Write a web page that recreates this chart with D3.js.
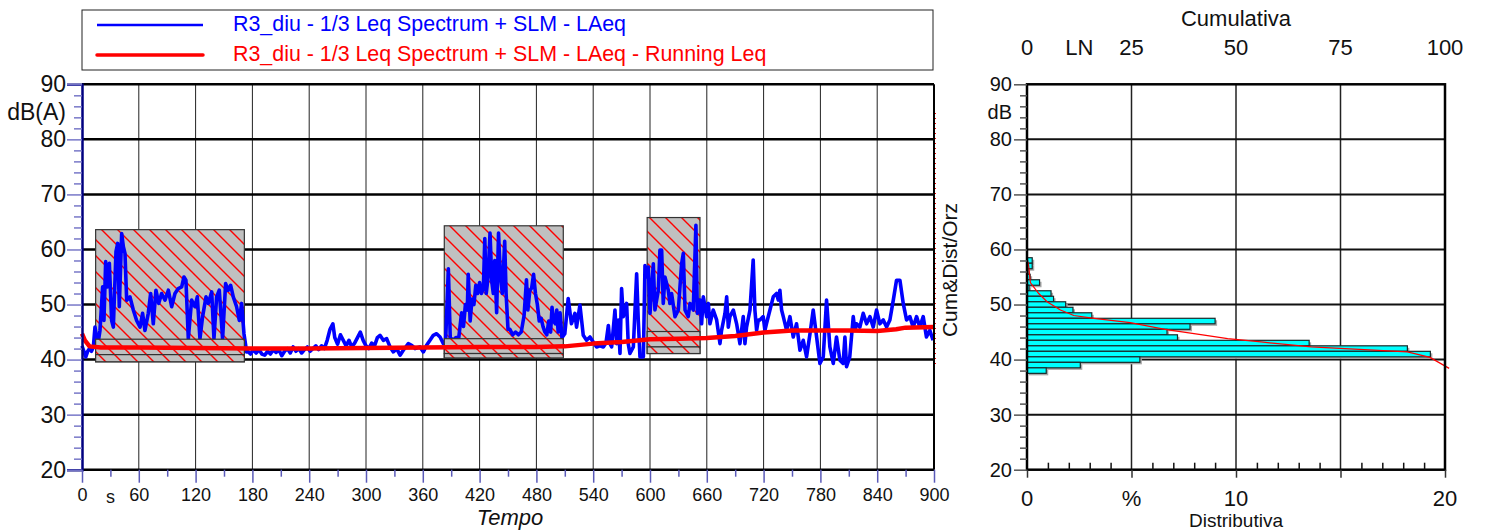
<!DOCTYPE html>
<html>
<head>
<meta charset="utf-8">
<script src="https://cdn.jsdelivr.net/npm/d3@7"></script>
<style>
body { margin: 0; background: #fff; }
svg { display: block; font-family: "Liberation Sans", Arial, sans-serif; }
</style>
</head>
<body>
<svg id="chart" width="1489" height="530"></svg>
<script>
// LAeq time history (s, dB)
var laeqTime = [0,2,4,6,8,10,12,13.7,15.5,17,19,
	21.8,23.2,25,26.8,28.9,31.3,33.1,35.9,37.7,39.4,41.9,43.7,45.4,47.2,50.7,54.2,57.7,61.3,64,66.5,70,72.5,75.3,78.1,81,84.1,87.7,91.2,94.7,98.2,101.7,105.3,107.7,109.8,112.3,115.8,119.3,121.8,124.6,127.4,131,133.4,137,139.4,142.2,145,148.5,151.7,154.5,157,159.8,163.3,166.2,168.6,171.1,
	173.9,175,178,181,184,187,190,193,196,199,202,205,208,211,214,217,220,223,226,229,232,235,238,241,244,247,250,253,256,259,262,265,267,270,273,276,279,282,285,288,291,294,297,300,303,306,309,312,
	314.8,318.3,321.8,325.4,328.9,332.4,336,339.4,344.7,348.2,351.8,357,360.6,364,367.6,371.1,374.6,378.2,381.7,
	384,387,389,392,395,398,401,403,405,407,408,410,412,414,416,418,420,422,424,425.5,427,429,431,433,434.5,436,438,440,442,444,446.5,448,450,452,455,458,461,464,467,469.5,471,473,475,477,479,481,483,485,487,489,491,493,495,496.5,498,500,501.5,503,505,507,
	510,513.6,517,520.7,522.4,526,529.5,533,
	536.6,540,543.6,547,550.7,553.5,556,557.7,559.5,563,564.8,566.5,568.3,570,571.8,575.3,577,578.8,582.4,585.9,587.6,589.4,593,594.7,596.4,598.2,600,603.5,605.2,608.8,610.5,612.3,614,615.8,619.3,621,622.8,626.4,629.9,633.4,635.2,637,640.4,642.2,645.7,648.5,650,652.8,
	654.5,656.3,659.8,661.6,663.3,666.8,670.4,673.9,675.6,679.2,681,682.7,684.4,688,691.5,695,698.5,700.3,702,705.6,709,710.8,712.6,714.4,716,719.6,721.4,723,726.7,730.2,733.7,735.5,737.2,739,740.8,744.3,747.8,751.3,754.8,758.4,761.9,765.4,769,772.4,776,779.5,783,786.5,790,793.6,797,800.6,804,805.9,807.6,811,814.7,816.4,818.2,821.7,825.2,828.8,832.3,835.8,839.3,842.8,846.4,849.9,853.4,857,860.4,864,867.5,871,874.5,878,881.6,885,888.6,892,895.6,899];
var laeqDb = [42.5,41.5,40.5,41.5,42,41.5,42.3,45.9,44.1,43,45.3,
	53.2,47.1,57.8,53.2,57.5,47.1,45.9,59.6,61.1,49.6,62.9,60.5,59.3,50.8,51.4,49,47.1,45.9,48.4,45.3,48.4,52,46.5,52.6,50.2,52,50.8,52.6,49.6,52,52.9,53.2,55,54.4,43.8,50.8,49.6,51.4,43.8,47.8,51.4,50.2,52.3,43.8,51.4,52.6,43.8,53.8,52.6,53.5,51.4,49.6,47.1,50.2,44.7,
	41.4,41.5,41,41.8,41.2,41.8,41,40.8,41.5,41,41.8,41.3,41.8,40.7,41.5,42,41.2,42.3,41.5,42,41.2,41.8,42.3,41.5,42,42.5,41.8,42.5,42,43.5,45.5,46.5,44,42.8,44.5,43.5,42.5,43.5,42.3,43,44,45,43.5,42.5,42,43,42.5,44,
	44.4,43.5,43.8,42.3,41.4,42,40.8,41.7,42.9,42.6,42,42.3,41.4,42.6,43.5,44.4,44.7,44.1,42.9,
	43,56.5,44,43.5,44,44,48.5,46,50,49,55.5,47,51,50,53.5,52,54,52,53,62,52,55,63,54,52,58,48.5,63,55,52,61.5,52,45.5,45.5,44.5,45,44.5,45,48,54.5,49,52.5,53,55.5,52,50,47,47.5,46,45,44.5,47,45,49.5,47,46.5,49,45,48.5,44,
	44.7,51.1,46.5,48.4,45.9,49.9,44.4,43.5,
	44.1,43.2,42.3,42.5,42.3,43,46.2,42.9,42.3,49,42.9,47.2,41.1,52.9,47.8,50.2,42.9,41.1,42.3,55.6,47.2,40.5,40.5,57.1,55,56.8,48.4,57.4,49,52.6,59.9,59.9,50.2,55,52.6,50.2,52,47.8,49,57.4,59.3,49,47.8,50.2,49,64.4,48.4,50.8,
	46.5,51.4,47.8,50.2,46.5,49,47.2,42.9,45.3,48.4,51.4,45.9,47.8,49,46.5,42.9,47.8,42.9,45.9,49,58.1,49,45.3,47.2,47.2,47.8,45.3,46.5,49,51.4,52,50.8,52.6,49,47.8,45.3,47.8,44.1,46.5,41.7,43.5,40.5,44.7,49,44.1,39.3,40.5,50.8,42.3,39.3,44.1,39.9,39.3,44.1,38.7,40.5,47.8,45.3,46.5,45.9,48.4,46.5,47.8,45.9,49,46.5,47.2,45.9,47.2,50.8,54.4,54.4,50.2,47.2,47.8,45.9,47.8,45.9,47.8,44.1,45.3,43.5];

// running Leq
var runTime = [0,3,8,20,60,120,180,240,300,360,420,480,510,540,570,600,630,660,690,720,750,780,810,840,860,870,900];
var runDb = [44.7,43.5,42.4,42.2,42.2,42.1,42.0,42.0,42.1,42.2,42.3,42.3,42.4,42.9,43.2,43.7,43.8,43.9,44.3,44.9,45.3,45.3,45.3,45.2,45.5,45.8,45.9];

// masked (excluded) periods
var maskStart = [14.4, 382.7, 597];
var maskEnd = [171.5, 508.4, 652.8];
var maskTop = [63.6, 64.3, 65.8];
var maskMid = [43.7, 43.8, 45.1];
var maskLine = [40.9, 41.1, 42.3];
var maskBottom = [39.6, 40.3, 41.1];

// distribution (1 dB classes) and cumulative
var histDb = [58,57,56,55,54,53,52,51,50,49,48,47,46,45,44,43,42,41,40,39,38];
var histPct = [0.25,0.25,0.05,0.15,0.6,0.1,1.15,1.27,1.85,2.2,3.1,9.0,7.8,6.7,7.2,13.5,18.2,19.3,5.4,2.55,0.92];
var cumDb = [58.5,57,54,52,50.5,49,48,47.5,46.7,45.5,44.5,43.8,43.2,42.3,41.4,40.4,38.4];
var cumPct = [0,0.4,0.8,2.8,4.8,8,11.2,16,24.7,33,42,48,56,68,91,96.4,101];

// tick labels
var dbTicks = [20,30,40,50,60,70,80,90];
var timeTicks = [0,60,120,180,240,300,360,420,480,540,600,660,720,780,840,900];
var distTicks = [0,10,20];
var cumTicks = [0,25,50,75,100];

var svg = d3.select("#chart");

var x = d3.scaleLinear().domain([0, 900]).range([82, 934]);
var y = d3.scaleLinear().domain([20, 90]).range([469.7, 84.3]);
var xd = d3.scaleLinear().domain([0, 20]).range([1027, 1445]);
var xc = d3.scaleLinear().domain([0, 100]).range([1027, 1445]);

// hatch for the masked boxes
var defs = svg.append("defs");
var pat = defs.append("pattern")
	.attr("id", "hatch")
	.attr("patternUnits", "userSpaceOnUse")
	.attr("width", 16).attr("height", 16);
pat.append("rect").attr("width", 16).attr("height", 16).attr("fill", "#c0c0c0");
pat.append("path")
	.attr("d", "M-4,-4L20,20M-4,12L4,20M12,-4L20,4")
	.attr("stroke", "#ff0000").attr("stroke-width", 1.4);

// ---------- legend ----------
svg.append("rect")
	.attr("x", 82).attr("y", 10).attr("width", 851).attr("height", 60)
	.attr("fill", "#fff").attr("stroke", "#222").attr("stroke-width", 1);
svg.append("line").attr("x1", 97).attr("x2", 203).attr("y1", 25).attr("y2", 25)
	.attr("stroke", "#0000ff").attr("stroke-width", 2.5);
svg.append("line").attr("x1", 97).attr("x2", 203).attr("y1", 55).attr("y2", 55)
	.attr("stroke", "#ff0000").attr("stroke-width", 3.5).attr("stroke-linecap", "round");
svg.append("text").attr("x", 233).attr("y", 31).attr("font-size", 21.4).attr("fill", "#0000ff")
	.text("R3_diu - 1/3 Leq Spectrum + SLM - LAeq");
svg.append("text").attr("x", 233).attr("y", 61).attr("font-size", 21.4).attr("fill", "#ff0000")
	.text("R3_diu - 1/3 Leq Spectrum + SLM - LAeq - Running Leq");

// ---------- time history ----------
var left = svg.append("g");

left.selectAll("line.vgrid")
	.data(d3.range(60, 900, 60))
	.enter().append("line")
	.attr("x1", function(d) { return x(d); }).attr("x2", function(d) { return x(d); })
	.attr("y1", y(90)).attr("y2", y(20))
	.attr("stroke", "#222").attr("stroke-width", 1);

left.selectAll("line.hgrid")
	.data(d3.range(30, 90, 10))
	.enter().append("line")
	.attr("x1", x(0)).attr("x2", x(900))
	.attr("y1", function(d) { return y(d); }).attr("y2", function(d) { return y(d); })
	.attr("stroke", "#000").attr("stroke-width", 2.5);

// big masked boxes behind the line
left.selectAll("rect.mask")
	.data(maskStart)
	.enter().append("rect")
	.attr("x", function(d) { return x(d); })
	.attr("y", function(d, i) { return y(maskTop[i]); })
	.attr("width", function(d, i) { return x(maskEnd[i]) - x(d); })
	.attr("height", function(d, i) { return y(maskBottom[i]) - y(maskTop[i]); })
	.attr("fill", "url(#hatch)").attr("stroke", "#333").attr("stroke-width", 1.2);

var laeq = laeqTime.map(function(t, i) { return [t, laeqDb[i]]; });
var lineGen = d3.line().x(function(d) { return x(d[0]); }).y(function(d) { return y(d[1]); });

left.append("path")
	.datum(laeq)
	.attr("d", lineGen)
	.attr("fill", "none").attr("stroke", "#0000ff").attr("stroke-width", 3.6)
	.attr("stroke-linejoin", "round");

// small boxes on top (level of masked part)
left.selectAll("rect.maskA")
	.data(maskStart)
	.enter().append("rect")
	.attr("x", function(d) { return x(d); })
	.attr("y", function(d, i) { return y(maskMid[i]); })
	.attr("width", function(d, i) { return x(maskEnd[i]) - x(d); })
	.attr("height", function(d, i) { return y(maskLine[i]) - y(maskMid[i]); })
	.attr("fill", "url(#hatch)").attr("stroke", "#333").attr("stroke-width", 1.2);
left.selectAll("rect.maskB")
	.data(maskStart)
	.enter().append("rect")
	.attr("x", function(d) { return x(d); })
	.attr("y", function(d, i) { return y(maskLine[i]); })
	.attr("width", function(d, i) { return x(maskEnd[i]) - x(d); })
	.attr("height", function(d, i) { return y(maskBottom[i]) - y(maskLine[i]); })
	.attr("fill", "url(#hatch)").attr("stroke", "#333").attr("stroke-width", 1.2);

var run = runTime.map(function(t, i) { return [t, runDb[i]]; });
left.append("path")
	.datum(run)
	.attr("d", lineGen)
	.attr("fill", "none").attr("stroke", "#ff0000").attr("stroke-width", 4.5)
	.attr("stroke-linejoin", "round");

// frame
left.append("line").attr("x1", x(0)).attr("x2", x(900)).attr("y1", y(90)).attr("y2", y(90))
	.attr("stroke", "#000").attr("stroke-width", 2.5);
left.append("line").attr("x1", x(0)).attr("x2", x(900)).attr("y1", y(20)).attr("y2", y(20))
	.attr("stroke", "#000").attr("stroke-width", 2.5);
left.append("line").attr("x1", x(900)).attr("x2", x(900)).attr("y1", y(90)).attr("y2", y(20))
	.attr("stroke", "#000").attr("stroke-width", 2);
left.append("line").attr("x1", x(900) + 1.5).attr("x2", x(900) + 1.5).attr("y1", 113).attr("y2", 365)
	.attr("stroke", "#ff0000").attr("stroke-width", 1).attr("stroke-dasharray", "1,4");

// y axis
var yAxis = left.append("g").attr("transform", "translate(" + x(0) + ",0)")
	.call(d3.axisLeft(y).tickValues(dbTicks).tickSize(15).tickPadding(1));
yAxis.select(".domain").attr("stroke", "#000080").attr("stroke-width", 2.5);
yAxis.selectAll(".tick line").attr("stroke", "#7878c8").attr("stroke-width", 1.5);
yAxis.selectAll("text").attr("font-size", 23).attr("font-family", "Liberation Sans, Arial, sans-serif").attr("fill", "#111");
var yMinor = left.append("g").attr("transform", "translate(" + x(0) + ",0)")
	.call(d3.axisLeft(y).tickValues(d3.range(22, 90, 2).filter(function(d) { return d % 10 != 0; })).tickSize(8).tickFormat(""));
yMinor.select(".domain").remove();
yMinor.selectAll(".tick line").attr("stroke", "#7878c8").attr("stroke-width", 1.5);
left.append("text").attr("x", 66).attr("y", y(85)).attr("dy", "0.36em")
	.attr("text-anchor", "end").attr("font-size", 23).attr("fill", "#111").text("dB(A)");

// x axis
var xAxis = left.append("g").attr("transform", "translate(0," + y(20) + ")")
	.call(d3.axisBottom(x).tickValues(timeTicks).tickSize(13).tickPadding(6));
xAxis.select(".domain").remove();
xAxis.selectAll(".tick line").attr("stroke", "#5a5ab8").attr("stroke-width", 1.5);
xAxis.selectAll("text").attr("font-size", 18).attr("font-family", "Liberation Sans, Arial, sans-serif").attr("fill", "#111");
var xMinor = left.append("g").attr("transform", "translate(0," + y(20) + ")")
	.call(d3.axisBottom(x).tickValues(d3.range(30, 900, 60)).tickSize(7).tickFormat(""));
xMinor.select(".domain").remove();
xMinor.selectAll(".tick line").attr("stroke", "#5a5ab8").attr("stroke-width", 1.5);
left.append("text").attr("x", x(30)).attr("y", 503).attr("text-anchor", "middle")
	.attr("font-size", 18).attr("fill", "#111").text("s");
left.append("text").attr("x", 510).attr("y", 525).attr("text-anchor", "middle")
	.attr("font-size", 22).attr("font-style", "italic").attr("fill", "#111").text("Tempo");

left.append("text")
	.attr("transform", "translate(957," + 270 + ") rotate(-90)")
	.attr("text-anchor", "middle").attr("font-size", 21).attr("fill", "#111")
	.text("Cum&Dist/Orz");

// ---------- distribution ----------
var right = svg.append("g");

right.selectAll("line.vgrid")
	.data([5, 10, 15])
	.enter().append("line")
	.attr("x1", function(d) { return xd(d); }).attr("x2", function(d) { return xd(d); })
	.attr("y1", y(90)).attr("y2", y(20))
	.attr("stroke", "#222").attr("stroke-width", 1.5);
right.selectAll("line.hgrid")
	.data(d3.range(30, 90, 10))
	.enter().append("line")
	.attr("x1", xd(0)).attr("x2", xd(20))
	.attr("y1", function(d) { return y(d); }).attr("y2", function(d) { return y(d); })
	.attr("stroke", "#111").attr("stroke-width", 2);

// bar shadows then bars
right.selectAll("rect.shadow")
	.data(histDb)
	.enter().append("rect")
	.attr("x", xd(0) + 2)
	.attr("y", function(d) { return y(d + 0.5) + 2; })
	.attr("width", function(d, i) { return xd(histPct[i]) - xd(0); })
	.attr("height", function(d) { return y(d - 0.5) - y(d + 0.5); })
	.attr("fill", "#a8a8a8");
right.selectAll("rect.bar")
	.data(histDb)
	.enter().append("rect")
	.attr("x", xd(0))
	.attr("y", function(d) { return y(d + 0.5); })
	.attr("width", function(d, i) { return xd(histPct[i]) - xd(0); })
	.attr("height", function(d) { return y(d - 0.5) - y(d + 0.5); })
	.attr("fill", "#00ffff").attr("stroke", "#1a2a2a").attr("stroke-width", 1.2);

var cum = cumDb.map(function(d, i) { return [cumPct[i], d]; });
right.append("path")
	.datum(cum)
	.attr("d", d3.line().x(function(d) { return xc(d[0]); }).y(function(d) { return y(d[1]); }))
	.attr("fill", "none").attr("stroke", "#ff0000").attr("stroke-width", 1.2);

// frame
right.append("rect")
	.attr("x", xd(0)).attr("y", y(90)).attr("width", xd(20) - xd(0)).attr("height", y(20) - y(90))
	.attr("fill", "none").attr("stroke", "#000").attr("stroke-width", 2.5);

var ryAxis = right.append("g").attr("transform", "translate(" + xd(0) + ",0)")
	.call(d3.axisLeft(y).tickValues(dbTicks).tickSize(13).tickPadding(2));
ryAxis.select(".domain").remove();
ryAxis.selectAll(".tick line").attr("stroke", "#555").attr("stroke-width", 1.5);
ryAxis.selectAll("text").attr("font-size", 20).attr("font-family", "Liberation Sans, Arial, sans-serif").attr("fill", "#111");
var ryMinor = right.append("g").attr("transform", "translate(" + xd(0) + ",0)")
	.call(d3.axisLeft(y).tickValues(d3.range(22, 90, 2).filter(function(d) { return d % 10 != 0; })).tickSize(7).tickFormat(""));
ryMinor.select(".domain").remove();
ryMinor.selectAll(".tick line").attr("stroke", "#555").attr("stroke-width", 1.5);
right.append("text").attr("x", 1012).attr("y", y(85)).attr("dy", "0.36em")
	.attr("text-anchor", "end").attr("font-size", 20).attr("fill", "#111").text("dB");

// bottom: distributive %
var rxAxis = right.append("g").attr("transform", "translate(0," + y(20) + ")")
	.call(d3.axisBottom(xd).tickValues([0, 5, 10, 15, 20]).tickSize(8).tickFormat(""));
rxAxis.select(".domain").remove();
rxAxis.selectAll(".tick line").attr("stroke", "#333").attr("stroke-width", 1.5);
var rxMinor = right.append("g").attr("transform", "translate(0," + y(20) + ")")
	.call(d3.axisBottom(xd).tickValues(d3.range(1, 20).filter(function(d) { return d % 5 != 0; })).tickSize(-7).tickFormat(""));
rxMinor.select(".domain").remove();
rxMinor.selectAll(".tick line").attr("stroke", "#111").attr("stroke-width", 1.5);

right.selectAll("text.dist")
	.data(distTicks)
	.enter().append("text")
	.attr("x", function(d) { return xd(d); }).attr("y", 506)
	.attr("text-anchor", "middle").attr("font-size", 22).attr("fill", "#111")
	.text(function(d) { return d; });
right.append("text").attr("x", xd(5)).attr("y", 506).attr("text-anchor", "middle")
	.attr("font-size", 22).attr("fill", "#111").text("%");
right.append("text").attr("x", xd(10)).attr("y", 527).attr("text-anchor", "middle")
	.attr("font-size", 19).attr("fill", "#111").text("Distributiva");

// top: cumulative
right.selectAll("text.cum")
	.data(cumTicks)
	.enter().append("text")
	.attr("x", function(d) { return xc(d); }).attr("y", 55)
	.attr("text-anchor", "middle").attr("font-size", 22).attr("fill", "#111")
	.text(function(d) { return d; });
right.append("text").attr("x", xc(12.5)).attr("y", 55).attr("text-anchor", "middle")
	.attr("font-size", 22).attr("fill", "#111").text("LN");
right.append("text").attr("x", xc(50)).attr("y", 26).attr("text-anchor", "middle")
	.attr("font-size", 22).attr("fill", "#111").text("Cumulativa");
</script>
</body>
</html>
